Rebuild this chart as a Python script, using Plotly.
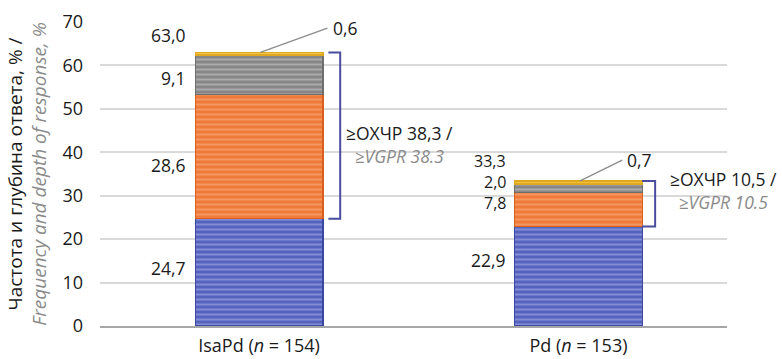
import plotly.graph_objects as go

# Response categories per arm, stacked from the bottom up
groups = ["IsaPd (<i>n</i> = 154)", "Pd (<i>n</i> = 153)"]
pr_vals = [24.7, 22.9]       # partial response
vgpr_vals = [28.6, 7.8]      # very good partial response
cr_vals = [9.1, 2.0]         # complete response
scr_vals = [0.6, 0.7]        # stringent complete response
totals = [63.0, 33.3]
vgpr_plus = [38.3, 10.5]

FONT = "Open Sans"
FS = 17.5
xpos = [0, 1]


def ru(v):
    return f"{v:.1f}".replace(".", ",")


segments = [
    (pr_vals, "#5563bd", "#b0b8ee", "#3c47a0"),
    (vgpr_vals, "#f07a38", "#f8b48a", "#d8601f"),
    (cr_vals, "#878787", "#cfcfcf", "#6e6e6e"),
    (scr_vals, "#efc23a", "#f5d880", "#e0a820"),
]

fig = go.Figure()
for vals, base, light, edge in segments:
    fig.add_trace(go.Bar(
        x=xpos, y=vals, width=0.4,
        marker=dict(
            color=base,
            line=dict(color=edge, width=1.2),
            pattern=dict(shape="-", fgcolor=light, size=5, solidity=0.4, fillmode="overlay"),
        ),
        showlegend=False, hoverinfo="skip",
    ))

ann = []


def lab(x, y, text, xanchor="right", size=FS):
    ann.append(dict(x=x, y=y, xref="x", yref="y", text=text, showarrow=False,
                    xanchor=xanchor, yanchor="middle",
                    font=dict(family=FONT, size=size, color="#1a1a1a")))


# segment value labels to the left of each bar (y positions in axis units)
label_y = [
    (67.0, 57.1, 37.1, 13.4),
    (38.1, 33.2, 28.3, 15.2),
]
label_fs = [FS, 16]
for i in range(2):
    x = xpos[i] - 0.222
    yt, yc, yv, yp = label_y[i]
    lab(x, yt, ru(totals[i]), size=label_fs[i])
    lab(x, yc, ru(cr_vals[i]), size=label_fs[i])
    lab(x, yv, ru(vgpr_vals[i]), size=label_fs[i])
    lab(x, yp, ru(pr_vals[i]))

# leader lines to the thin top segment and their labels
shapes = []
leaders = [(0, 0.004, 0.214, 68.6), (1, 0.005, 0.137, 38.2)]
for i, x0, x1, ytxt in leaders:
    top = pr_vals[i] + vgpr_vals[i] + cr_vals[i] + scr_vals[i]
    shapes.append(dict(type="line", xref="x", yref="y", x0=xpos[i] + x0, y0=top,
                       x1=xpos[i] + x1, y1=ytxt, line=dict(color="#8c8c8c", width=1.3)))
    lab(xpos[i] + x1 + 0.01, ytxt, ru(scr_vals[i]), xanchor="left")

# brackets marking ≥VGPR
brackets = [(0, 0.217, 0.254), (1, 0.199, 0.240)]
for i, xa, xb in brackets:
    lo = pr_vals[i]
    hi = pr_vals[i] + vgpr_vals[i] + cr_vals[i] + scr_vals[i]
    xa += xpos[i]
    xb += xpos[i]
    shapes.append(dict(type="path", xref="x", yref="y",
                       path=f"M {xa},{hi} L {xb},{hi} L {xb},{lo} L {xa},{lo}",
                       line=dict(color="#4b4d9e", width=2)))

txt_pos = [(0.439, 41.9), (1.453, 31.3)]
for i, (x, y) in enumerate(txt_pos):
    v = vgpr_plus[i]
    ann.append(dict(x=x, y=y, xref="x", yref="y", showarrow=False, xanchor="center",
                    yanchor="middle", align="center",
                    text=(f"≥ОХЧР {ru(v)} /<br>"
                          f"<span style='color:#8a8a8a'><i>≥VGPR {v}</i></span>"),
                    font=dict(family=FONT, size=FS, color="#1a1a1a")))

fig.update_layout(
    barmode="stack",
    width=782, height=359,
    margin=dict(l=100, r=55, t=22, b=33),
    paper_bgcolor="white", plot_bgcolor="white",
    font=dict(family=FONT, size=FS, color="#1a1a1a"),
    annotations=ann, shapes=shapes,
    xaxis=dict(range=[-0.498, 1.465], tickvals=xpos, ticktext=groups, automargin=False,
               showgrid=False, zeroline=False, showline=True,
               linecolor="#a6a6a6", linewidth=2, ticks="", ticklabelstandoff=2,
               tickfont=dict(family=FONT, size=18, color="#1a1a1a")),
    yaxis=dict(range=[0, 70], dtick=10, showgrid=True, gridcolor="#d9d9d9", gridwidth=1.5,
               automargin=False,
               zeroline=False, showline=False, ticks="", ticklabelstandoff=16,
               tickfont=dict(family=FONT, size=18, color="#1a1a1a"),
               title=dict(text=("Частота и глубина ответа, % /<br>"
                                "<span style='color:#8a8a8a'><i>Frequency and depth of response, %</i></span>"),
                          font=dict(family=FONT, size=19, color="#1a1a1a"), standoff=10)),
)

fig.write_html("out.html")
